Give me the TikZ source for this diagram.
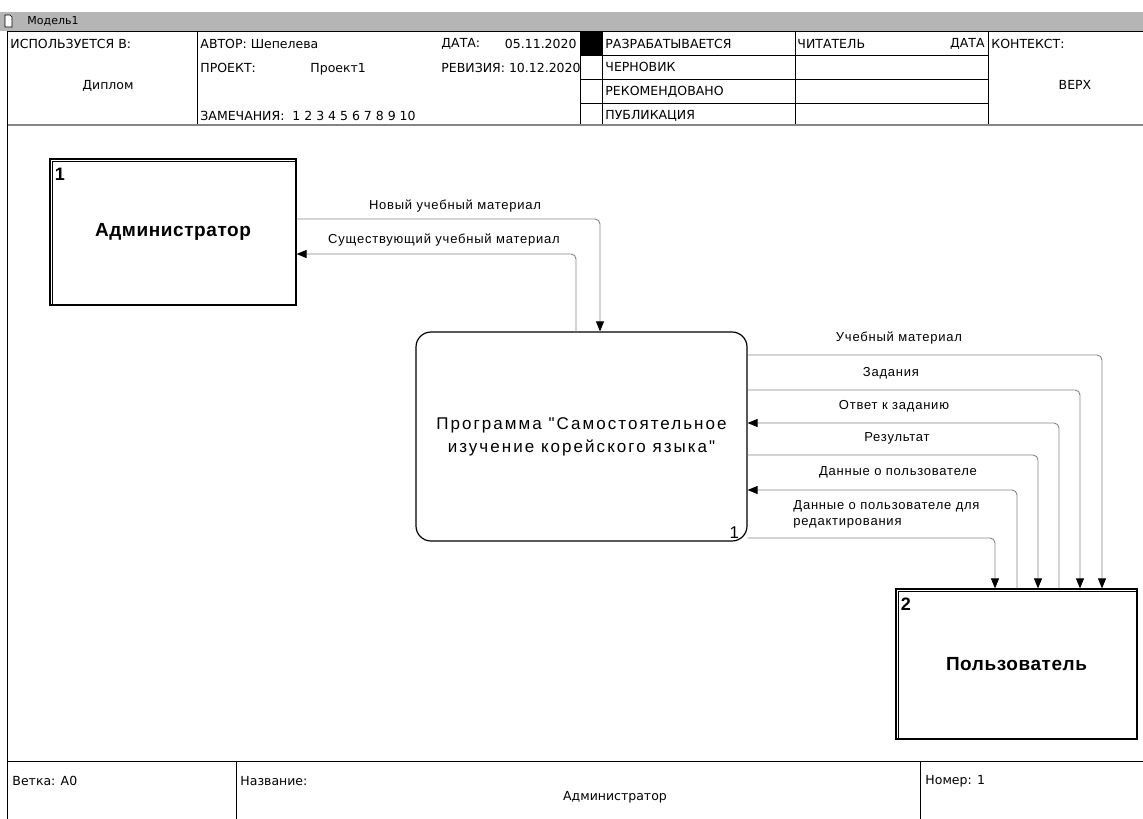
\documentclass[tikz,border=0pt]{standalone}
\usepackage{fontspec}
\setmainfont{Liberation Sans}
\newfontfamily\hdrfont{DejaVu Sans}
\newfontfamily\lblfont[LetterSpace=6]{Liberation Sans}
\newfontfamily\namefont[LetterSpace=3]{Liberation Sans}
\newfontfamily\progfont[LetterSpace=12]{Liberation Sans}
\usetikzlibrary{arrows.meta}
\definecolor{bargray}{rgb}{0.71,0.71,0.71}
\definecolor{linegray}{rgb}{0.52,0.52,0.52}

\tikzset{
    hdr/.style={font=\hdrfont\fontsize{12.5}{14}\selectfont, inner sep=0pt},
    lbl/.style={font=\lblfont\fontsize{13}{16}\selectfont, inner sep=0pt},
    ext/.style={draw, line width=1.2pt, font=\namefont\bfseries\fontsize{19}{21}\selectfont},
    num/.style={font=\namefont\bfseries\fontsize{18}{20}\selectfont, inner sep=0pt},
    func/.style={draw, line width=1.2pt, rounded corners=15pt, align=center,
        font=\progfont\fontsize{17}{23}\selectfont},
    flow/.style={linegray, line width=0.9pt, rounded corners=5pt,
        -{Triangle[length=10pt,width=8pt,color=black]}},
}

\begin{document}
\begin{tikzpicture}[x=1pt,y=-1pt,line width=0.9pt]
        \useasboundingbox (0,0) rectangle (1143,819);
        % title bar
        \fill[bargray] (0,12) rectangle (1143,31);
        \draw[fill=white, line width=0.7pt] (5,15) -- (10,15) -- (12,17) -- (12,27) -- (5,27) -- cycle;
        \node[anchor=west, font=\hdrfont\fontsize{11}{12}\selectfont, inner sep=0pt] (model) at (27,21) {Модель1};

        % frame
        \draw (7.5,31) -- (1143,31);
        \draw (7.5,31) -- (7.5,819);
        \draw (197,31) -- (197,125);
        \draw (580,31) -- (580,125);
        \draw (602,31) -- (602,125);
        \draw (795,31) -- (795,125);
        \draw (988,31) -- (988,125);
        \draw (580,55) -- (988,55);
        \draw (580,79) -- (988,79);
        \draw (580,103) -- (988,103);
        \fill (580,31) rectangle (602,55);
        \draw[linegray, line width=2pt] (7.5,125) -- (1143,125);

        % header text
        \node[hdr, anchor=west] (used) at (10,44) {ИСПОЛЬЗУЕТСЯ В:};
        \node[hdr] (diplom) at (108,86) {Диплом};
        \node[hdr, anchor=west] (author) at (200,44) {АВТОР: Шепелева};
        \node[hdr, anchor=west] (project) at (200,68) {ПРОЕКТ:};
        \node[hdr, anchor=west] (projname) at (310,69) {Проект1};
        \node[hdr, anchor=west] (notes) at (200,116) {ЗАМЕЧАНИЯ:\ \ 1 2 3 4 5 6 7 8 9 10};
        \node[hdr, anchor=west] (date) at (441,44) {ДАТА:};
        \node[hdr, anchor=east] (dateval) at (577,44) {05.11.2020};
        \node[hdr, anchor=west] (revision) at (441,68) {РЕВИЗИЯ: 10.12.2020};
        \node[hdr, anchor=west] (working) at (605,44) {РАЗРАБАТЫВАЕТСЯ};
        \node[hdr, anchor=west] (draft) at (605,67) {ЧЕРНОВИК};
        \node[hdr, anchor=west] (recommended) at (605,92) {РЕКОМЕНДОВАНО};
        \node[hdr, anchor=west] (publication) at (605,116) {ПУБЛИКАЦИЯ};
        \node[hdr, anchor=west] (reader) at (797,44) {ЧИТАТЕЛЬ};
        \node[hdr, anchor=east] (readerdate) at (985,44) {ДАТА};
        \node[hdr, anchor=west] (context) at (991,44) {КОНТЕКСТ:};
        \node[hdr] (top) at (1075,85) {ВЕРХ};

        % entities
        \node[ext, minimum width=246pt, minimum height=146pt] (admin) at (173,232) {Администратор};
        \draw[line width=0.7pt] ([xshift=3pt]admin.south west) |- ([yshift=-3pt]admin.north east);
        \node[num, anchor=north west] (adminnum) at ([xshift=5pt,yshift=-9pt]admin.north west) {1};

        \node[ext, minimum width=241pt, minimum height=150pt] (user) at (1016.5,664) {Пользователь};
        \draw[line width=0.7pt] ([xshift=3pt]user.south west) |- ([yshift=-3pt]user.north east);
        \node[num, anchor=north west] (usernum) at ([xshift=5pt,yshift=-9pt]user.north west) {2};

        % process
        \node[func, minimum width=331pt, minimum height=209pt] (prog) at (581.5,436.5)
            {Программа "Самостоятельное\\изучение корейского языка"};
        \node[font=\progfont\fontsize{17}{18}\selectfont, inner sep=0pt, anchor=south east] (prognum)
            at ([xshift=-8pt,yshift=3pt]prog.south east) {1};

        % flows admin
        \draw[flow] ([yshift=13pt]admin.east) -| ([xshift=18.5pt]prog.north);
        \draw[flow] ([xshift=-5.5pt]prog.north) |- ([yshift=-22pt]admin.east);
        \node[lbl] (newmat) at (455,206) {Новый учебный материал};
        \node[lbl] (oldmat) at (444,240) {Существующий учебный материал};

        % flows user
        \draw[flow] ([yshift=81.5pt]prog.east) -| ([xshift=85.5pt]user.north);
        \draw[flow] ([yshift=46.5pt]prog.east) -| ([xshift=63.5pt]user.north);
        \draw[flow] ([xshift=42.5pt]user.north) |- ([yshift=13.5pt]prog.east);
        \draw[flow] ([yshift=-18.5pt]prog.east) -| ([xshift=21.5pt]user.north);
        \draw[flow] ([xshift=0.5pt]user.north) |- ([yshift=-53.5pt]prog.east);
        \draw[flow] ([yshift=-101.5pt]prog.east) -| ([xshift=-21.5pt]user.north);
        \node[lbl] (material) at (899,338) {Учебный материал};
        \node[lbl] (tasks) at (891,373) {Задания};
        \node[lbl] (answer) at (894,406) {Ответ к заданию};
        \node[lbl] (result) at (897,438) {Результат};
        \node[lbl] (userdata) at (898,472) {Данные о пользователе};
        \node[lbl, anchor=north west, align=left] (editdata) at (793,500)
            {Данные о пользователе для\\редактирования};

        % footer
        \draw (7.5,761) -- (1143,761);
        \draw (236,761) -- (236,819);
        \draw (920,761) -- (920,819);
        \node[hdr, anchor=west] (branch) at (12,781) {Ветка: A0};
        \node[hdr, anchor=west] (title) at (240,781) {Название:};
        \node[hdr] (titleval) at (615,797) {Администратор};
        \node[hdr, anchor=west] (number) at (925,781) {Номер: 1};
\end{tikzpicture}
\end{document}
